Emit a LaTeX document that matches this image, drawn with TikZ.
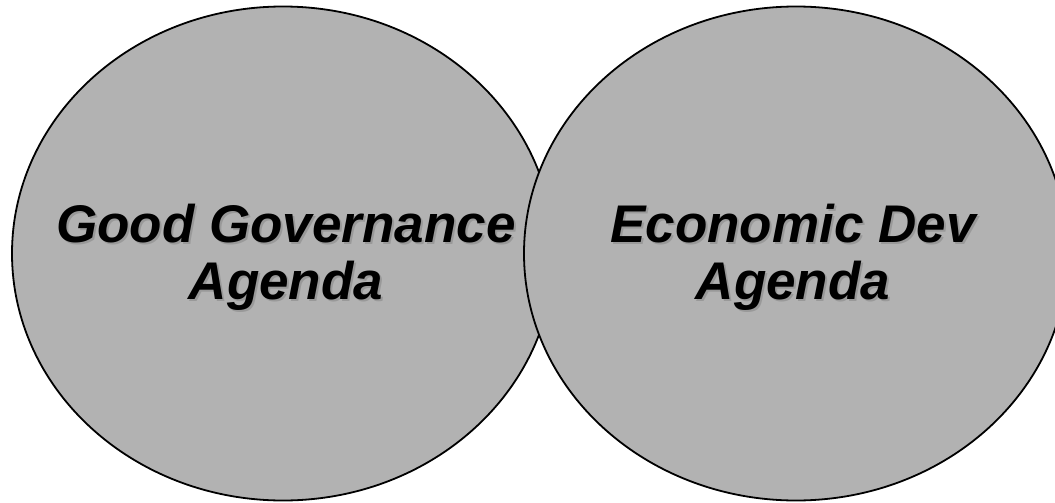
\documentclass[tikz,border=0pt]{standalone}
\usepackage{fontspec}
\setmainfont{Liberation Sans}
\usetikzlibrary{shapes.geometric}
\definecolor{circfill}{HTML}{B2B2B2}
\definecolor{shadowgray}{HTML}{999999}
\newcommand{\shtxt}[1]{\makebox[0pt][l]{\hspace{1pt}\raisebox{-1pt}{\textcolor{shadowgray}{#1}}}#1}
\tikzset{
  circ/.style={ellipse, draw=black, line width=0.9pt, fill=circfill, inner sep=0pt},
  lbl/.style={align=center, inner sep=0pt,
    font=\fontsize{26.5pt}{28.5pt}\selectfont\bfseries\itshape},
}
\begin{document}
\begin{tikzpicture}[x=0.5pt,y=-0.5pt]
  \useasboundingbox (0,0) rectangle (1055,503);
  \clip (0,0) rectangle (1055,503);
  \node[circ, minimum width=271pt, minimum height=247pt] (L) at (283,253.5) {};
  \node[circ, minimum width=272pt, minimum height=247pt] (R) at (796,253.5) {};
  \node[lbl] (Lt) at ([xshift=1.5pt,yshift=-2.5pt]L.center) {\shtxt{Good Governance}\\\shtxt{Agenda}};
  \node[lbl] (Rt) at ([xshift=-1.5pt,yshift=-2.5pt]R.center) {\shtxt{Economic Dev}\\\shtxt{Agenda}};
\end{tikzpicture}
\end{document}
